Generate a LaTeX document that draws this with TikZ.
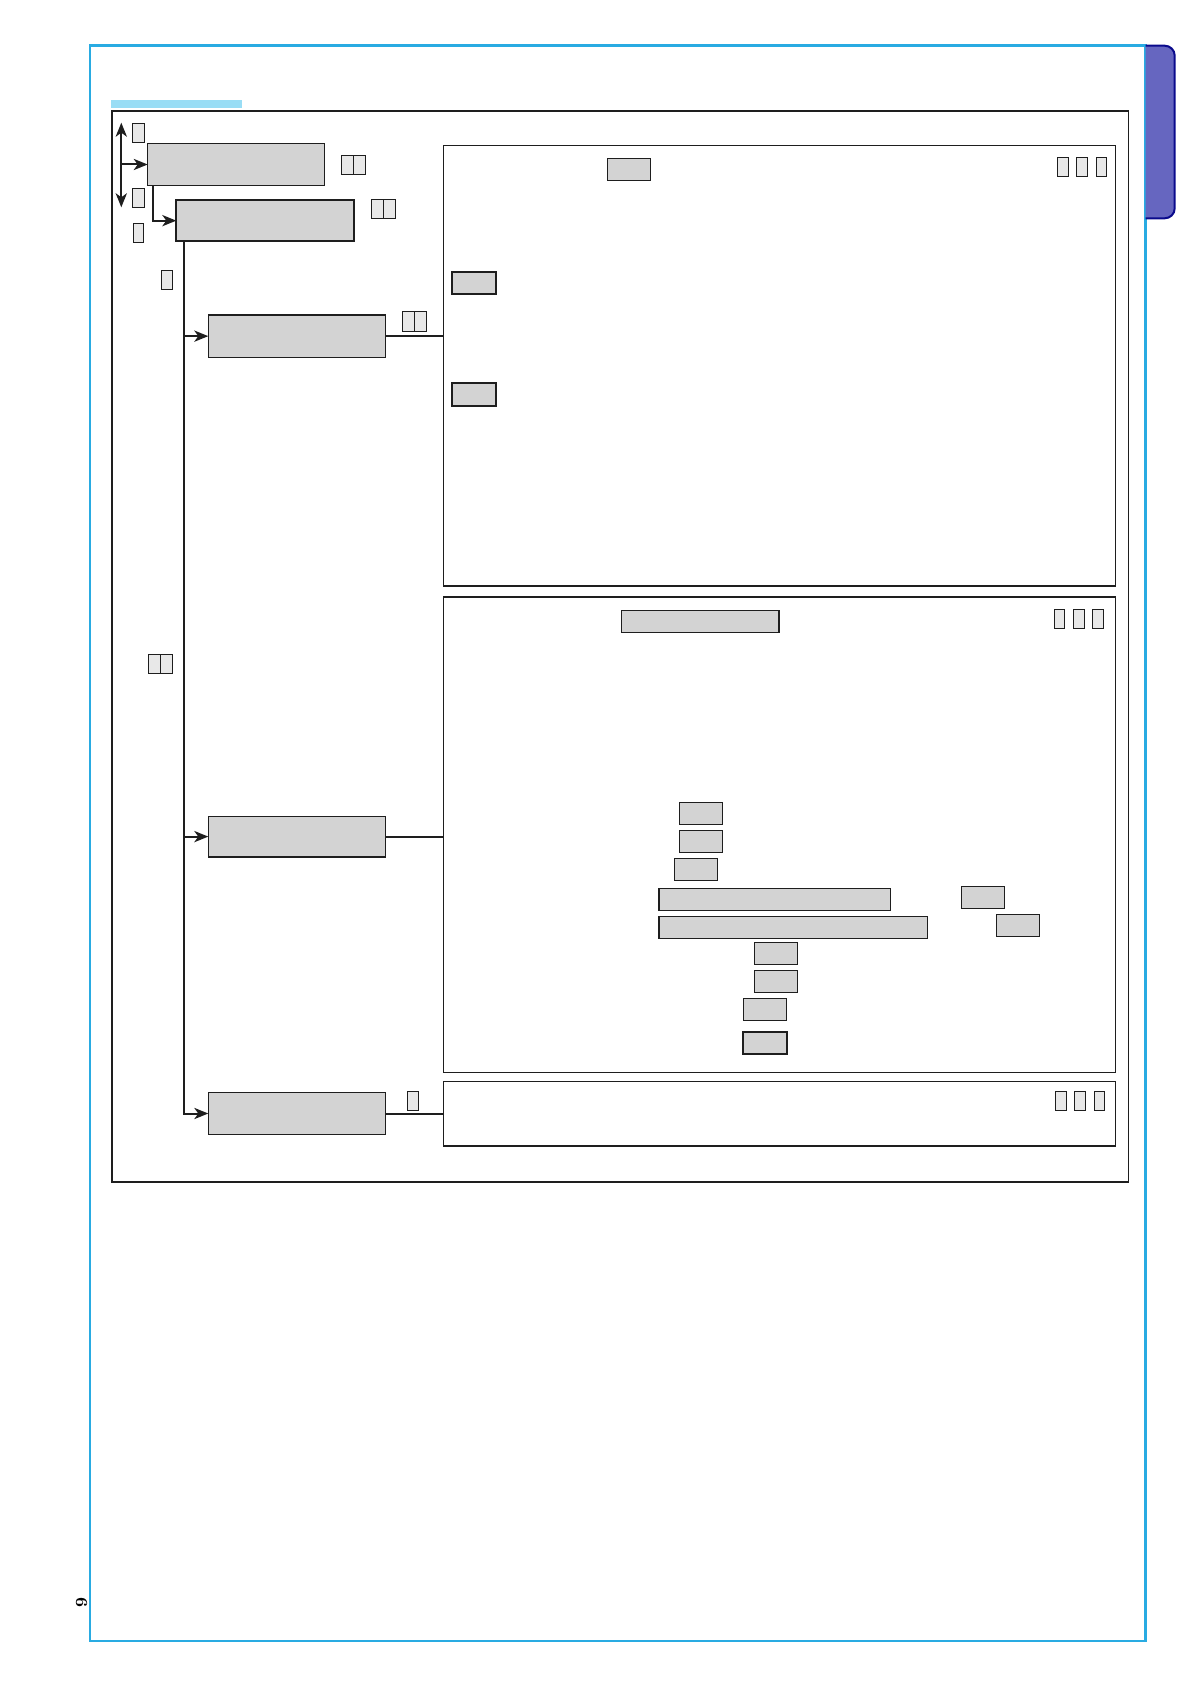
\documentclass[tikz,border=0pt]{standalone}
\usetikzlibrary{arrows.meta}
\definecolor{cyanframe}{RGB}{41,171,226}
\definecolor{cyanbar}{RGB}{153,221,245}
\definecolor{tabfill}{RGB}{102,102,192}
\definecolor{tabline}{RGB}{10,10,140}
\definecolor{boxgray}{RGB}{211,211,211}
\definecolor{smallgray}{RGB}{232,232,232}
\definecolor{ink}{RGB}{30,30,30}
\newcommand\pbox[6]{\node[#1,anchor=north west,minimum width={(#5-#3)*0.5pt},minimum height={(#6-#4)*0.5pt}] (#2) at (#3,#4) {};}
\tikzset{
  box/.style={draw=ink, fill=boxgray, line width=0.65pt, inner sep=0pt, outer sep=0pt},
  thickbox/.style={box, line width=1pt},
  small/.style={draw=ink, fill=smallgray, line width=0.5pt, inner sep=0pt, outer sep=0pt},
  panel/.style={draw=ink, line width=0.6pt, inner sep=0pt, outer sep=0pt},
  frame/.style={draw=ink, line width=0.9pt, inner sep=0pt, outer sep=0pt},
  conn/.style={draw=ink, line width=1pt},
  tip/.style={},
  arr/.style={conn, -{Stealth[length=7pt,width=5.6pt,inset=2pt]}},
  dblarr/.style={conn, {Stealth[length=7pt,width=5.6pt,inset=2pt]}-{Stealth[length=7pt,width=5.6pt,inset=2pt]}}
}
\begin{document}
\begin{tikzpicture}[x=0.5pt,y=-0.5pt]
\useasboundingbox (0,0) rectangle (1191,1684);
% page frame
\draw[cyanframe, line width=1.2pt] (90,45.7) rectangle (1145.5,1640.7);
\fill[tabfill] (1145.5,45.7) [rounded corners=5pt] -- (1174.7,45.7) -- (1174.7,218.3) [sharp corners] -- (1145.5,218.3) -- cycle;
\draw[tabline, line width=1pt] (1145.5,45.7) [rounded corners=5pt] -- (1174.7,45.7) -- (1174.7,218.3) [sharp corners] -- (1145.5,218.3);
\fill[cyanbar] (111,100) rectangle (242,107.7);
\node[rotate=-90, font=\fontsize{8.5}{9}\selectfont\bfseries, inner sep=0pt] (pagenum) at (81.7,1602.7) {6};
% outer frame
\pbox{frame}{outer}{112}{110.7}{1128.5}{1182}
% panels
\pbox{panel}{p1}{443.3}{145.3}{1115.5}{586}
\pbox{panel}{p2}{443.3}{597}{1115.5}{1072.3}
\pbox{panel}{p3}{443.3}{1081.3}{1115.5}{1146}
% main boxes
\pbox{box}{A}{147.7}{143.7}{324.7}{185.3}
\pbox{thickbox}{B}{176.3}{200}{354.3}{241.3}
\pbox{box}{C}{208.3}{315}{385.7}{357.3}
\pbox{box}{D}{208.3}{816.2}{385.7}{857}
\pbox{box}{E}{208.3}{1092.7}{385.7}{1134.3}
% small boxes left
\pbox{small}{s1}{132.3}{123.3}{144.3}{142.3}
\pbox{small}{s2}{132.3}{188.3}{144.3}{207.3}
\pbox{small}{s3}{133.3}{223.3}{143.7}{242.3}
\pbox{small}{s4}{161.3}{270.3}{172.7}{289.7}
\pbox{small}{dAa}{341.3}{155.3}{353.3}{174.3}
\pbox{small}{dAb}{353.3}{155.3}{365.7}{174.3}
\pbox{small}{dBa}{371.3}{199.3}{383.3}{218.7}
\pbox{small}{dBb}{383.3}{199.3}{395.3}{218.7}
\pbox{small}{dCa}{402.3}{311.3}{414.5}{331.7}
\pbox{small}{dCb}{414.5}{311.3}{426.7}{331.7}
\pbox{small}{dLa}{148.3}{654}{160.3}{673.3}
\pbox{small}{dLb}{160.3}{654}{172.7}{673.3}
\pbox{small}{sE}{407.3}{1091}{418.7}{1110.7}
% triples
\pbox{small}{t1a}{1057.3}{157.3}{1068.7}{176.3}
\pbox{small}{t1b}{1076.3}{157.3}{1087.7}{176.3}
\pbox{small}{t1c}{1096.3}{157.3}{1106.7}{176.3}
\pbox{small}{t2a}{1054.3}{609}{1064.3}{628.7}
\pbox{small}{t2b}{1073.3}{609}{1084}{628.7}
\pbox{small}{t2c}{1092.3}{609}{1103.3}{628.7}
\pbox{small}{t3a}{1055.3}{1091}{1066.7}{1110.7}
\pbox{small}{t3b}{1074.3}{1091}{1085.7}{1110.7}
\pbox{small}{t3c}{1094.3}{1091}{1104.7}{1110.7}
% boxes in panel 1
\pbox{box}{q1}{607.3}{158.3}{650.7}{180.7}
\pbox{thickbox}{q2}{452.3}{271.7}{495.7}{294.3}
\pbox{thickbox}{q3}{452.3}{383.3}{495.7}{406.3}
% boxes in panel 2
\pbox{box}{r0}{621.3}{610.3}{779}{632.7}
\pbox{box}{r1}{679.3}{802.3}{722.7}{824.3}
\pbox{box}{r2}{679.3}{830.3}{722.7}{852.3}
\pbox{box}{r3}{674.3}{858.3}{717.3}{880.3}
\pbox{box}{r4}{659}{888.3}{890.7}{910.3}
\pbox{box}{r5}{659}{916.3}{927.7}{938.3}
\pbox{box}{r6}{961.3}{886.3}{1004.7}{908.3}
\pbox{box}{r7}{996.3}{914.3}{1039.7}{936.3}
\pbox{box}{r8}{754.3}{942.3}{797.7}{964.3}
\pbox{box}{r9}{754.3}{970.3}{797.7}{992.3}
\pbox{box}{r10}{743.3}{998.3}{786.7}{1020.3}
\pbox{thickbox}{r11}{743.3}{1031.7}{786.7}{1054.3}
% connectors
\coordinate (vtop) at (121.3,122.7);
\coordinate (vbot) at (121.3,207.3);
\draw[dblarr] (vtop) -- (vbot);
\draw[arr] (vtop |- A.west) -- (A.west);
\coordinate (elbowA) at (153,185.3);
\draw[arr] (elbowA) |- (B.west);
\coordinate (trunk) at (184,241.3);
\draw[arr] (trunk) |- (E.west);
\draw[arr] (trunk |- C.west) -- (C.west);
\draw[arr] (trunk |- D.west) -- (D.west);
\draw[conn] (C.east) -- (C.east -| p1.west);
\draw[conn] (D.east) -- (D.east -| p2.west);
\draw[conn] (E.east) -- (E.east -| p3.west);
\end{tikzpicture}
\end{document}
